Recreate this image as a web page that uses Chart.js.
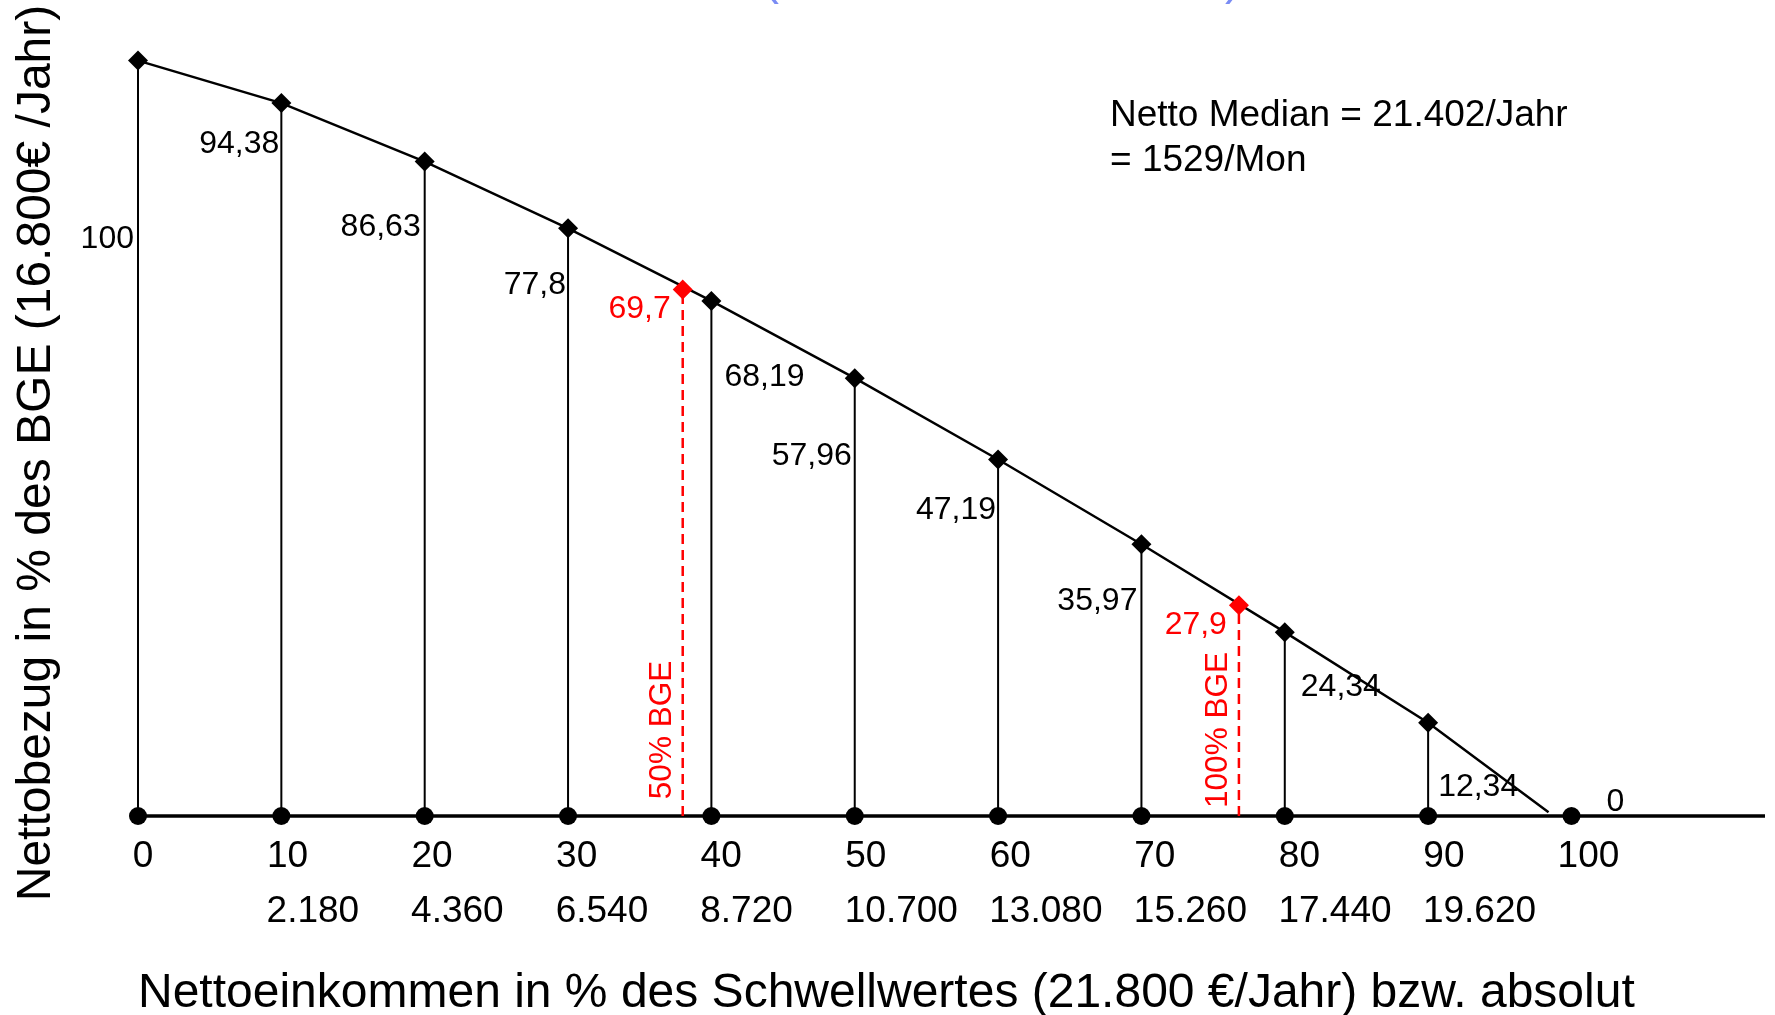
<!DOCTYPE html>
<html>
<head>
<meta charset="utf-8">
<script src="https://cdn.jsdelivr.net/npm/chart.js@4.4.0/dist/chart.umd.min.js"></script>
<style>
  html, body { margin: 0; padding: 0; background: #fff; }
  canvas { display: block; }
</style>
</head>
<body>
<canvas id="chart" width="1775" height="1015"></canvas>
<script>
// Werte
const percentSteps = [0, 10, 20, 30, 40, 50, 60, 70, 80, 90];
const nettoBezug = [100, 94.38, 86.63, 77.8, 68.19, 57.96, 47.19, 35.97, 24.34, 12.34];
const lineEnd = { x: 98.4, y: 0.5 };
const axisTicks = [0, 10, 20, 30, 40, 50, 60, 70, 80, 90, 100];
const absoluteLabels = ['', '2.180', '4.360', '6.540', '8.720', '10.700', '13.080', '15.260', '17.440', '19.620', ''];
const bgeMarks = [38.0, 76.8];
const bgeValues = [69.7, 27.9];
const bgeNames = ['50% BGE', '100% BGE'];
const zeroLabelAt = 100;

// label layout (pixel offsets from each point)
const labelPlace = [
  { side: 'left', gap: 4, dy: 179 },
  { side: 'left', gap: 2, dy: 41 },
  { side: 'left', gap: 4, dy: 66 },
  { side: 'left', gap: 2, dy: 57 },
  { side: 'right', gap: 13, dy: 76 },
  { side: 'left', gap: 3, dy: 78 },
  { side: 'left', gap: 2, dy: 51 },
  { side: 'left', gap: 4, dy: 57 },
  { side: 'right', gap: 16, dy: 55 },
  { side: 'right', gap: 10, dy: 64 }
];

const FONT = '"Liberation Sans", Arial, Helvetica, sans-serif';
const de = v => String(v).replace('.', ',');

const mainData = percentSteps.map((x, i) => ({ x: x, y: nettoBezug[i] }));
mainData.push(lineEnd);
const dropData = percentSteps.flatMap((x, i) => [{ x: x, y: 0 }, { x: x, y: nettoBezug[i] }, { x: x, y: null }]);
const bgeData = bgeMarks.flatMap((x, i) => [{ x: x, y: 0 }, { x: x, y: bgeValues[i] }, { x: x, y: null }]);

const textPlugin = {
  id: 'texts',
  beforeDatasetsDraw(chart) {
    const { ctx, chartArea, scales: { x, y } } = chart;
    const y0 = y.getPixelForValue(0);
    ctx.save();
    ctx.strokeStyle = '#000';
    ctx.lineWidth = 3.5;
    ctx.beginPath();
    ctx.moveTo(chartArea.left, y0);
    ctx.lineTo(chartArea.right, y0);
    ctx.stroke();
    ctx.restore();
  },
  afterDatasetsDraw(chart) {
    const { ctx, scales: { x, y } } = chart;
    const y0 = y.getPixelForValue(0);
    ctx.save();
    ctx.fillStyle = '#000';

    // data labels
    ctx.font = '32px ' + FONT;
    ctx.textBaseline = 'middle';
    percentSteps.forEach((v, i) => {
      const p = labelPlace[i];
      const px = x.getPixelForValue(v);
      const py = y.getPixelForValue(nettoBezug[i]);
      ctx.textAlign = p.side === 'left' ? 'right' : 'left';
      ctx.fillText(de(nettoBezug[i]), p.side === 'left' ? px - p.gap : px + p.gap, py + p.dy);
    });
    ctx.textAlign = 'left';
    ctx.fillText('0', x.getPixelForValue(zeroLabelAt) + 35, y0 - 14);

    // red BGE labels
    ctx.fillStyle = '#ff0000';
    bgeMarks.forEach((v, i) => {
      const px = x.getPixelForValue(v);
      const py = y.getPixelForValue(bgeValues[i]);
      ctx.font = '32px ' + FONT;
      ctx.textAlign = 'right';
      ctx.textBaseline = 'middle';
      ctx.fillText(de(bgeValues[i]), px - 12, py + 20);
      ctx.save();
      ctx.translate(px - 12, y0 - 86);
      ctx.rotate(-Math.PI / 2);
      ctx.font = '31.5px ' + FONT;
      ctx.textAlign = 'center';
      ctx.textBaseline = 'alphabetic';
      ctx.fillText(bgeNames[i], 0, 0);
      ctx.restore();
    });

    // x tick labels, two rows
    ctx.fillStyle = '#000';
    ctx.font = '37px ' + FONT;
    ctx.textBaseline = 'alphabetic';
    axisTicks.forEach((v, i) => {
      const px = x.getPixelForValue(v);
      ctx.textAlign = 'center';
      ctx.fillText(String(v), px + 5 + 0.12 * v, y0 + 51);
      if (absoluteLabels[i]) {
        ctx.textAlign = 'left';
        ctx.fillText(absoluteLabels[i], px - 16 + 0.12 * v, y0 + 106);
      }
    });

    // axis titles
    ctx.font = '48px ' + FONT;
    ctx.textAlign = 'left';
    ctx.fillText('Nettoeinkommen in % des Schwellwertes (21.800 €/Jahr) bzw. absolut', 138, 1007);
    ctx.save();
    ctx.translate(50, 453);
    ctx.rotate(-Math.PI / 2);
    ctx.font = '48px ' + FONT;
    ctx.textAlign = 'center';
    ctx.fillText('Nettobezug in % des BGE (16.800€ /Jahr)', 0, 0);
    ctx.restore();

    // median note
    ctx.font = '37px ' + FONT;
    ctx.textAlign = 'left';
    ctx.fillText('Netto Median = 21.402/Jahr', 1110, 126);
    ctx.fillText('= 1529/Mon', 1110, 171);

    // cut-off title (only the brackets show)
    ctx.fillStyle = '#7a8cf4';
    ctx.font = '48px ' + FONT;
    ctx.textAlign = 'center';
    ctx.fillText('(', 771, -6);
    ctx.fillText(')', 1233, -6);
    ctx.restore();
  }
};

new Chart(document.getElementById('chart'), {
  type: 'line',
  data: {
    datasets: [
      {
        data: mainData,
        borderColor: '#000',
        borderWidth: 2.5,
        backgroundColor: '#000',
        pointStyle: 'rectRot',
        pointRadius: ctx => ctx.dataIndex < percentSteps.length ? 10 : 0,
        pointBorderWidth: 0,
        tension: 0,
        clip: false,
        order: 1
      },
      {
        data: dropData,
        borderColor: '#000',
        borderWidth: 2,
        pointRadius: 0,
        spanGaps: false,
        clip: false,
        order: 3
      },
      {
        data: bgeData,
        borderColor: '#ff0000',
        borderWidth: 2.5,
        borderDash: [10, 6],
        pointRadius: 0,
        spanGaps: false,
        clip: false,
        order: 2
      },
      {
        data: bgeMarks.map((x, i) => ({ x: x, y: bgeValues[i] })),
        showLine: false,
        backgroundColor: '#ff0000',
        pointStyle: 'rectRot',
        pointRadius: 10,
        pointBorderWidth: 0,
        clip: false,
        order: 0
      },
      {
        data: axisTicks.map(x => ({ x: x, y: 0 })),
        showLine: false,
        backgroundColor: '#000',
        pointStyle: 'circle',
        pointRadius: 9,
        pointBorderWidth: 0,
        clip: false,
        order: 0
      }
    ]
  },
  options: {
    responsive: false,
    animation: false,
    devicePixelRatio: 1,
    events: [],
    layout: { padding: { left: 138, right: 6, top: 0, bottom: 199 } },
    scales: {
      x: { type: 'linear', min: 0, max: 113.5, display: false },
      y: { type: 'linear', min: 0, max: 106.7, display: false }
    },
    plugins: {
      legend: { display: false },
      tooltip: { enabled: false }
    }
  },
  plugins: [textPlugin]
});
</script>
</body>
</html>
